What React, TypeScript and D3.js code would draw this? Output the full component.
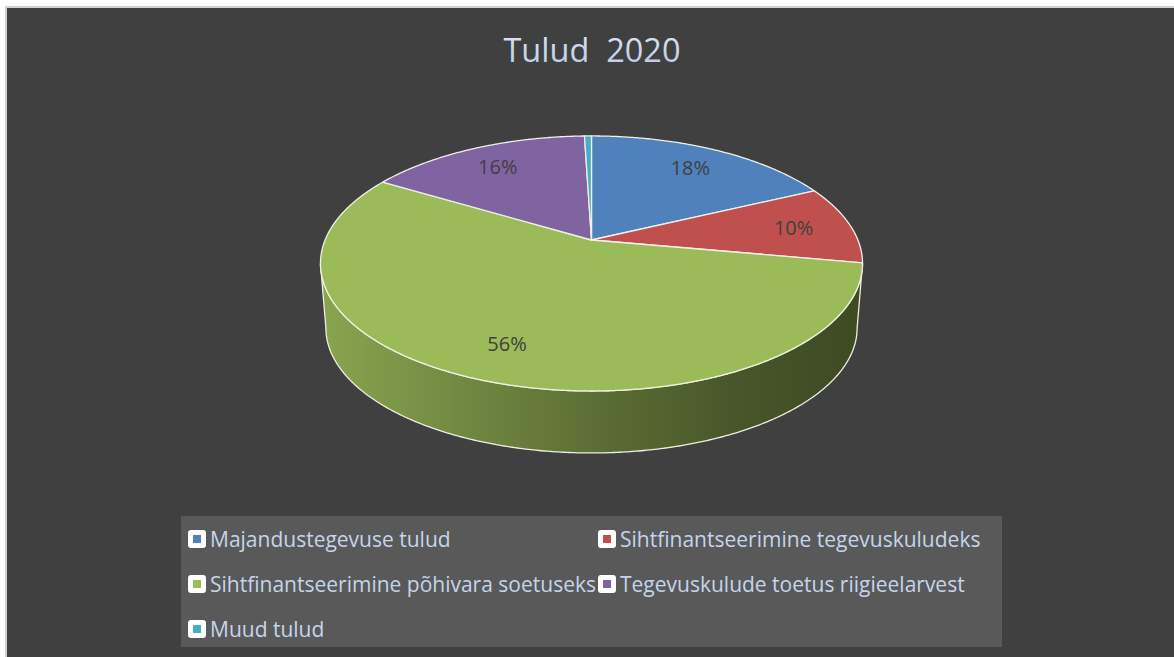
import React from 'react';
import * as d3 from 'd3';

const categories = [
  'Majandustegevuse tulud',
  'Sihtfinantseerimine tegevuskuludeks',
  'Sihtfinantseerimine põhivara soetuseks',
  'Tegevuskulude toetus riigieelarvest',
  'Muud tulud',
];
const values = [18, 10, 56, 16, 0.5];
const colors = ['#4f81bd', '#c0504d', '#9bbb59', '#8064a2', '#4bacc6'];
const title = 'Tulud  2020';

const W = 1174;
const H = 657;
const CX = 591.5;
const CY = 240;
const A = 266.4;
const B = 123.2;
const K = 0.184;
const DEPTH = 65;
const BOTTOM_SCALE = 0.98;
const LABEL_R = 0.78;
const FONT = "'Open Sans', 'DejaVu Sans', sans-serif";

function project(phi: number, r: number, bottom = false): [number, number] {
  const x = r * Math.sin(phi);
  const z = -r * Math.cos(phi);
  const s = bottom ? BOTTOM_SCALE : 1;
  const w = 1 - K * z;
  return [CX + (A * s * x) / w, CY + (bottom ? DEPTH : 0) + (B * s * z) / w];
}

function arcPoints(a0: number, a1: number, bottom = false): [number, number][] {
  const n = Math.max(2, Math.ceil(((a1 - a0) * 180) / Math.PI / 0.5));
  const pts: [number, number][] = [];
  for (let i = 0; i <= n; i++) pts.push(project(a0 + ((a1 - a0) * i) / n, 1, bottom));
  return pts;
}

const line = d3.line<[number, number]>();

export default function App() {
  const total = d3.sum(values);
  const arcs = d3
    .pie<number>()
    .sort(null)
    .startAngle(0)
    .endAngle(2 * Math.PI)
    .value((d) => d)(values);

  const visLo = Math.acos(-K);
  const visHi = 2 * Math.PI - visLo;

  const sides = arcs
    .map((a, i) => {
      const lo = Math.max(a.startAngle, visLo);
      const hi = Math.min(a.endAngle, visHi);
      if (lo >= hi) return null;
      const top = arcPoints(lo, hi);
      const bot = arcPoints(lo, hi, true).reverse();
      return { i, d: line([...top, ...bot])! + 'Z' };
    })
    .filter(Boolean) as { i: number; d: string }[];

  const tops = arcs.map((a, i) => {
    const pts = [project(0, 0), ...arcPoints(a.startAngle, a.endAngle)];
    return { i, d: line(pts)! + 'Z' };
  });

  const labels = arcs
    .map((a, i) => {
      const pct = Math.round((a.data / total) * 100);
      if (pct < 1) return null;
      const [x, y] = project((a.startAngle + a.endAngle) / 2, LABEL_R);
      return { i, x, y, text: `${pct}%` };
    })
    .filter(Boolean) as { i: number; x: number; y: number; text: string }[];

  const legendCols = [188, 598];
  const legendRow0 = 539;
  const legendRowStep = 45;

  return (
    <div style={{ position: 'absolute', left: 0, top: 0 }}>
      <svg width={W} height={H} style={{ display: 'block' }}>
        <defs>
          {colors.map((c, i) => {
            const base = d3.color(c)!;
            return (
              <linearGradient
                key={i}
                id={`side${i}`}
                gradientUnits="userSpaceOnUse"
                x1={CX - A * 1.02}
                x2={CX + A * 1.02}
                y1={0}
                y2={0}
              >
                <stop offset="0" stopColor={base.darker(0.35).formatHex()} />
                <stop offset="0.5" stopColor={base.darker(1.45).formatHex()} />
                <stop offset="0.78" stopColor={base.darker(2.2).formatHex()} />
                <stop offset="1" stopColor={base.darker(2.6).formatHex()} />
              </linearGradient>
            );
          })}
          <linearGradient id="titleGrad" x1="0" x2="0" y1="0" y2="1">
            <stop offset="0" stopColor="#dfe8f5" />
            <stop offset="1" stopColor="#b7c8e2" />
          </linearGradient>
        </defs>
        <rect x={0} y={0} width={W} height={H} fill="#ffffff" />
        <rect x={6} y={7} width={W} height={H} fill="#404040" stroke="#d2d2d2" strokeWidth={2} />
        <text
          x={592}
          y={62}
          textAnchor="middle"
          fontFamily={FONT}
          fontSize={32.5}
          fill="url(#titleGrad)"
          style={{ whiteSpace: 'pre' }}
        >
          {title}
        </text>

        {sides.map((s) => (
          <path key={`s${s.i}`} d={s.d} fill={`url(#side${s.i})`} stroke="#eeeedd" strokeWidth={1.3} strokeLinejoin="round" />
        ))}
        {tops.map((t) => (
          <path key={`t${t.i}`} d={t.d} fill={colors[t.i]} stroke="#f0f0e6" strokeWidth={1.3} strokeLinejoin="round" />
        ))}
        {labels.map((l) => (
          <text
            key={`l${l.i}`}
            x={l.x}
            y={l.y}
            textAnchor="middle"
            dominantBaseline="central"
            fontFamily={FONT}
            fontSize={20}
            fill="#404040"
          >
            {l.text}
          </text>
        ))}

        <rect x={181} y={516} width={821} height={131} fill="#595959" />
        {categories.map((c, i) => {
          const x = legendCols[i % 2];
          const y = legendRow0 + Math.floor(i / 2) * legendRowStep;
          return (
            <g key={`lg${i}`}>
              <rect x={x} y={y - 9} width={18} height={18} rx={3} fill="#ffffff" />
              <rect x={x + 5} y={y - 4} width={8} height={8} fill={colors[i]} />
              <text
                x={x + 22}
                y={y}
                dominantBaseline="central"
                fontFamily={FONT}
                fontSize={21}
                fill="#c6d4ea"
              >
                {c}
              </text>
            </g>
          );
        })}
      </svg>
    </div>
  );
}
